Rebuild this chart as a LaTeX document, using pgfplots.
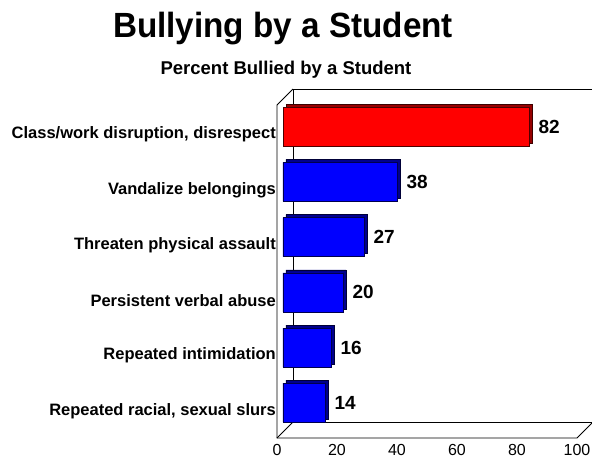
\documentclass[border=0pt]{standalone}
\usepackage{pgfplots}
\pgfplotsset{compat=1.18}
\usepackage{fontspec}
\setmainfont{Liberation Sans}
\usepackage{graphicx}

\definecolor{barred}{RGB}{255,0,0}
\definecolor{barblue}{RGB}{0,0,255}
\definecolor{sidered}{RGB}{150,0,0}
\definecolor{sideblue}{RGB}{0,0,140}

\begin{document}
\begin{tikzpicture}[x=1pt,y=1pt]
\begin{axis}[
  at={(0,0)}, anchor=south west,
  scale only axis, width=300pt, height=333pt,
  xbar, clip=false,
  xmin=0, xmax=100, ymin=-0.53, ymax=5.5,
  bar width=39pt,
  xtick={0,20,...,100},
  ytick={0,...,5},
  yticklabels={{Repeated racial, sexual slurs},{Repeated intimidation},{Persistent verbal abuse},{Threaten physical assault},{Vandalize belongings},{Class/work disruption, disrespect}},
  axis line style={draw=none},
  major tick length=0pt,
  tick style={draw=none},
  /pgf/number format/assume math mode=true,
  xticklabel style={font=\fontsize{16}{16}\selectfont, inner sep=0pt, anchor=north, xshift=-6pt, yshift=-12pt},
  yticklabel style={font=\bfseries\fontsize{16.5}{17}\selectfont, inner sep=0pt, anchor=east, xshift=-7pt, yshift=-8pt},
  nodes near coords,
  nodes near coords style={font=\bfseries\fontsize{19}{19}\selectfont, anchor=west, xshift=6pt, black},
]
% frame: back wall and floor
\coordinate (ll) at (rel axis cs:0,0);
\coordinate (ul) at (rel axis cs:0,1);
\coordinate (lr) at (rel axis cs:1,0);
\coordinate (ur) at (rel axis cs:1,1);
\draw[black, line width=0.8pt]
  ([shift={(10pt,10pt)}]ll) -- ([shift={(10pt,10pt)}]ul) -- ([shift={(10pt,10pt)}]ur) -- ([shift={(10pt,10pt)}]lr) -- cycle;
\draw[black, line width=0.8pt]
  ([shift={(-6pt,-6pt)}]ul) -- ([shift={(-6pt,-6pt)}]ll) -- ([shift={(-6pt,-6pt)}]lr) -- ([shift={(10pt,10pt)}]lr);
\draw[black, line width=0.8pt]
  ([shift={(-6pt,-6pt)}]ul) -- ([shift={(10pt,10pt)}]ul);
\draw[black, line width=0.8pt]
  ([shift={(-6pt,-6pt)}]ll) -- ([shift={(10pt,10pt)}]ll);
% depth faces
\addplot[fill=sideblue, draw=black!60!sideblue, bar shift=0pt, xshift=3pt, yshift=3pt, nodes near coords={}]
  coordinates {(14,0) (16,1) (20,2) (27,3) (38,4)};
\addplot[fill=sidered, draw=black!60!sidered, bar shift=0pt, xshift=3pt, yshift=3pt, nodes near coords={}]
  coordinates {(82,5)};
% front faces
\addplot[fill=barblue, draw=black!70!barblue, bar shift=0pt]
  coordinates {(14,0) (16,1) (20,2) (27,3) (38,4)};
\addplot[fill=barred, draw=black!70!barred, bar shift=0pt]
  coordinates {(82,5)};
\end{axis}
\node[anchor=base, font=\bfseries\fontsize{35}{35}\selectfont] at (0,394)
  {\scalebox{0.95}[1]{Bullying by a Student}};
\node[anchor=base, font=\bfseries\fontsize{18.5}{19}\selectfont] at (3,358)
  {Percent Bullied by a Student};
\pgfresetboundingbox
\path[use as bounding box] (-283,-27) rectangle (309,432);
\end{tikzpicture}
\end{document}
